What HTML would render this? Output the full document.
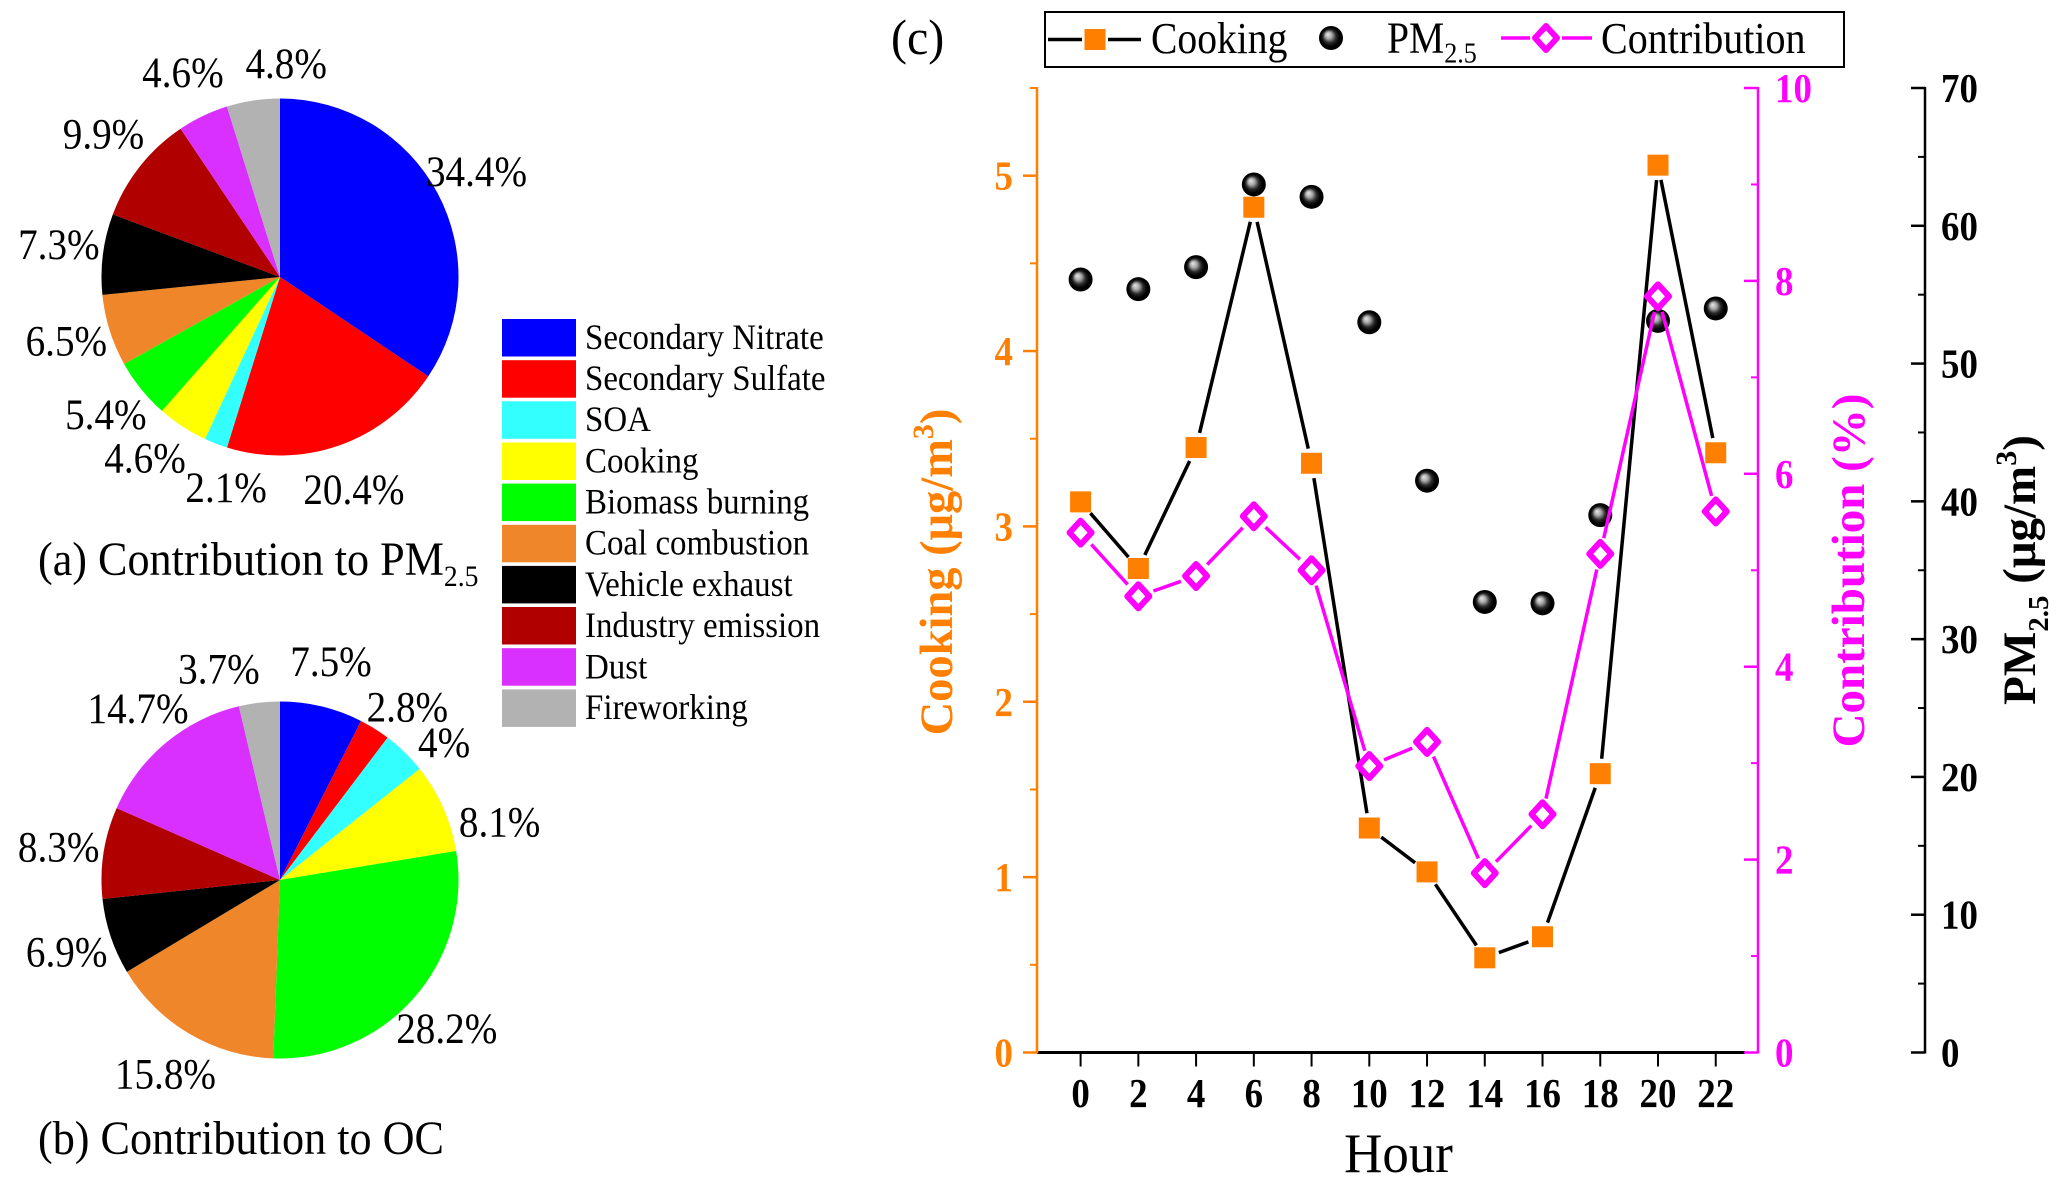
<!DOCTYPE html>
<html lang="en">
<head>
<meta charset="utf-8">
<title>Source contributions</title>
<style>
html,body{margin:0;padding:0;background:#fff;}
svg{display:block;font-family:"Liberation Serif",serif;}
</style>
</head>
<body>
<svg id="fig" xmlns="http://www.w3.org/2000/svg" width="2067" height="1184" viewBox="0 0 2067 1184">
  <defs>
    <radialGradient id="ballGrad" cx="0.5" cy="0.5" r="0.5" fx="0.36" fy="0.34">
      <stop offset="0" stop-color="#e8e8e8"/>
      <stop offset="0.28" stop-color="#a8a8a8"/>
      <stop offset="0.55" stop-color="#2a2a2a"/>
      <stop offset="0.78" stop-color="#000"/>
      <stop offset="1" stop-color="#000"/>
    </radialGradient>
  </defs>
  <rect width="2067" height="1184" fill="#fff"/>

  <g id="pieA"></g>
  <g id="pieB"></g>

  <text transform="translate(38,575) scale(.92,1)" font-size="48" fill="#000">(a) Contribution to PM<tspan dy="11" font-size="30">2.5</tspan></text>
  <text transform="translate(38,1154) scale(.92,1)" font-size="48" fill="#000">(b) Contribution to OC</text>

  <g font-size="36" fill="#000">
    <rect x="502" y="319" width="74" height="37.5" fill="#0000ff"/>
    <text transform="translate(585,349) scale(.915,1)">Secondary Nitrate</text>
    <rect x="502" y="360.2" width="74" height="37.5" fill="#ff0000"/>
    <text transform="translate(585,390) scale(.915,1)">Secondary Sulfate</text>
    <rect x="502" y="401.3" width="74" height="37.5" fill="#33ffff"/>
    <text transform="translate(585,431) scale(.915,1)">SOA</text>
    <rect x="502" y="442.5" width="74" height="37.5" fill="#ffff00"/>
    <text transform="translate(585,472.5) scale(.915,1)">Cooking</text>
    <rect x="502" y="483.6" width="74" height="37.5" fill="#00ff00"/>
    <text transform="translate(585,513.5) scale(.915,1)">Biomass burning</text>
    <rect x="502" y="524.8" width="74" height="37.5" fill="#f0862a"/>
    <text transform="translate(585,554.5) scale(.915,1)">Coal combustion</text>
    <rect x="502" y="565.9" width="74" height="37.5" fill="#000000"/>
    <text transform="translate(585,596) scale(.915,1)">Vehicle exhaust</text>
    <rect x="502" y="607" width="74" height="37.5" fill="#b00000"/>
    <text transform="translate(585,637) scale(.915,1)">Industry emission</text>
    <rect x="502" y="648.2" width="74" height="37.5" fill="#d930ff"/>
    <text transform="translate(585,678.5) scale(.915,1)">Dust</text>
    <rect x="502" y="689.4" width="74" height="37.5" fill="#b2b2b2"/>
    <text transform="translate(585,719) scale(.915,1)">Fireworking</text>
  </g>

  <text transform="translate(891,54) scale(.96,1)" font-size="50" fill="#000">(c)</text>

  <g>
    <rect x="1045" y="12" width="799" height="55" fill="#fff" stroke="#000" stroke-width="2"/>
    <line x1="1048" y1="39.5" x2="1082" y2="39.5" stroke="#000" stroke-width="3.5"/>
    <line x1="1108" y1="39.5" x2="1141" y2="39.5" stroke="#000" stroke-width="3.5"/>
    <rect x="1084.5" y="29" width="21" height="21" fill="#ff7f00"/>
    <text transform="translate(1151,53) scale(.9,1)" font-size="44" fill="#000">Cooking</text>
    <circle cx="1331" cy="38" r="12" fill="url(#ballGrad)"/>
    <text transform="translate(1387,52.5) scale(.9,1)" font-size="44" fill="#000">PM<tspan dy="10" font-size="29">2.5</tspan></text>
    <line x1="1501" y1="38" x2="1530" y2="38" stroke="#ff00ff" stroke-width="3.5"/>
    <line x1="1562" y1="38" x2="1592" y2="38" stroke="#ff00ff" stroke-width="3.5"/>
    <polygon points="1546,26 1557,38 1546,50 1535,38" fill="#fff" stroke="#ff00ff" stroke-width="6" stroke-linejoin="round"/>
    <text transform="translate(1601,53) scale(.91,1)" font-size="44" fill="#000">Contribution</text>
  </g>

  <g id="axes"></g>
  <g id="series"></g>

  <text transform="translate(1398.5,1172) scale(.945,1)" font-size="56" text-anchor="middle" fill="#000">Hour</text>
  <text transform="translate(952,572) rotate(-90)" font-size="46.5" font-weight="bold" text-anchor="middle" fill="#ff7f00">Cooking (μg/m<tspan dy="-19" font-size="30">3</tspan><tspan dy="19">)</tspan></text>
  <text transform="translate(1864,570.5) rotate(-90)" font-size="47" font-weight="bold" text-anchor="middle" fill="#ff00ff">Contribution (%)</text>
  <text transform="translate(2035,570) rotate(-90)" font-size="47" font-weight="bold" text-anchor="middle" fill="#000">PM<tspan dy="13" font-size="29">2.5</tspan><tspan dy="-13"> (μg/m</tspan><tspan dy="-19" font-size="30">3</tspan><tspan dy="19">)</tspan></text>
</svg>

<script>
// ----- Pie data -----
const sourceNames = ['Secondary Nitrate','Secondary Sulfate','SOA','Cooking','Biomass burning','Coal combustion','Vehicle exhaust','Industry emission','Dust','Fireworking'];
const pieColors = ['#0000ff','#ff0000','#33ffff','#ffff00','#00ff00','#f0862a','#000000','#b00000','#d930ff','#b2b2b2'];
const pm25Shares = [34.4,20.4,2.1,4.6,5.4,6.5,7.3,9.9,4.6,4.8];
const ocShares = [7.5,2.8,4,8.1,28.2,15.8,6.9,8.3,14.7,3.7];

// ----- Line chart data -----
const hours = [0,2,4,6,8,10,12,14,16,18,20,22];
const cookingValues = [3.14,2.76,3.45,4.82,3.36,1.28,1.03,0.54,0.66,1.59,5.06,3.42];
const contributionValues = [5.39,4.73,4.94,5.56,5.00,2.97,3.22,1.86,2.47,5.17,7.84,5.61];
const pm25Values = [56.1,55.4,57.0,63.0,62.1,53.0,41.5,32.7,32.6,39.0,53.1,54.0];
const cookingTicks = [0,1,2,3,4,5];
const contributionTicks = [0,2,4,6,8,10];
const pm25Ticks = [0,10,20,30,40,50,60,70];

const NS = 'http://www.w3.org/2000/svg';
function mk(parent, tag, attrs, txt){
  const el = document.createElementNS(NS, tag);
  for (const k in attrs) el.setAttribute(k, attrs[k]);
  if (txt !== undefined) el.textContent = txt;
  parent.appendChild(el);
  return el;
}
function place(x, y, sx){ return 'translate('+x+','+y+') scale('+sx+',1)'; }

// ----- Pies -----
const PIE_R = 178.5;
const LABEL_R = 225;
const pieANudge = [[-2,1],[-1,1],[27,1],[-12,-7],[1,-3],[1,-3],[2,-3],[0,-3],[0,-1],[40,9.5]];
const pieBNudge = [[-1.5,1],[8,18],[7,24],[14,34],[-2,0],[0,1],[0,1],[1,2],[2,2],[-35,13]];

function drawPie(group, values, cx, cy, nudges, prefix){
  const total = values.reduce(function(a,b){return a+b;},0);
  let acc = 0;
  values.forEach(function(v,i){
    const a0 = acc/total*2*Math.PI;
    acc += v;
    const a1 = acc/total*2*Math.PI;
    const x0 = cx+PIE_R*Math.sin(a0), y0 = cy-PIE_R*Math.cos(a0);
    const x1 = cx+PIE_R*Math.sin(a1), y1 = cy-PIE_R*Math.cos(a1);
    const large = (a1-a0) > Math.PI ? 1 : 0;
    const slice = mk(group,'path',{d:'M'+cx+' '+cy+'L'+x0+' '+y0+'A'+PIE_R+' '+PIE_R+' 0 '+large+' 1 '+x1+' '+y1+'Z',fill:pieColors[i]});
    
    
  });
  acc = 0;
  values.forEach(function(v,i){
    const mid = (acc+v/2)/total*2*Math.PI;
    acc += v;
    const lx = cx+LABEL_R*Math.sin(mid)+nudges[i][0];
    const ly = cy-LABEL_R*Math.cos(mid)+nudges[i][1]+14;
    const label = mk(group,'text',{transform:place(lx,ly,0.91),'font-size':43,'text-anchor':'middle',fill:'#000'},v+'%');
    
    
  });
}
drawPie(document.getElementById('pieA'), pm25Shares, 280, 277, pieANudge, 'pie-a');
drawPie(document.getElementById('pieB'), ocShares, 280, 880, pieBNudge, 'pie-b');

// ----- Axis functions -----
const AX_LEFT = 1037, AX_PINK = 1758, AX_BLACK = 1925, AX_TOP = 88, AX_BOTTOM = 1052.5;
const COOK_MAX = 5.5, CONTRIB_MAX = 10, PM_MAX = 70;
const X0 = 1080.6, HOUR_PX = 28.87;
function xScale(h){ return X0 + h*HOUR_PX; }
function yCook(v){ return AX_BOTTOM - v/COOK_MAX*(AX_BOTTOM-AX_TOP); }
function yContrib(v){ return AX_BOTTOM - v/CONTRIB_MAX*(AX_BOTTOM-AX_TOP); }
function yPm(v){ return AX_BOTTOM - v/PM_MAX*(AX_BOTTOM-AX_TOP); }

const axes = document.getElementById('axes');
const series = document.getElementById('series');

function drawYAxis(name, axisX, color, ticks, minorStep, maxVal, yFn, labelX, anchor, weight){
  const line = mk(axes,'line',{x1:axisX,y1:AX_TOP-1,x2:axisX,y2:AX_BOTTOM+1,stroke:color,'stroke-width':2.5});
  
  
  for (let n = 0; n*minorStep <= maxVal+1e-6; n++){
    const minor = mk(axes,'line',{x1:axisX-7,y1:yFn(n*minorStep),x2:axisX,y2:yFn(n*minorStep),stroke:color,'stroke-width':2});
    
    
  }
  ticks.forEach(function(t){
    const y = yFn(t);
    const tick = mk(axes,'line',{x1:axisX-14,y1:y,x2:axisX,y2:y,stroke:color,'stroke-width':2.5});
    
    
    const lab = mk(axes,'text',{transform:place(labelX,y+14,0.9),'font-size':41,'font-weight':weight,'text-anchor':anchor,fill:color},String(t));
    
    
  });
}
const xLine = mk(axes,'line',{x1:AX_LEFT,y1:AX_BOTTOM,x2:AX_PINK-13,y2:AX_BOTTOM,stroke:'#000','stroke-width':3});


hours.forEach(function(h){
  const x = xScale(h);
  const tick = mk(axes,'line',{x1:x,y1:AX_BOTTOM,x2:x,y2:AX_BOTTOM+14,stroke:'#000','stroke-width':2});
  
  
  const lab = mk(axes,'text',{transform:place(x,1107,0.9),'font-size':41,'font-weight':'bold','text-anchor':'middle',fill:'#000'},String(h));
  
  
});
drawYAxis('cooking', AX_LEFT, '#ff7f00', cookingTicks, 0.5, COOK_MAX, yCook, 1013, 'end', 'bold');
drawYAxis('contribution', AX_PINK, '#ff00ff', contributionTicks, 1, CONTRIB_MAX, yContrib, 1775, 'start', 'bold');
drawYAxis('pm25', AX_BLACK, '#000', pm25Ticks, 5, PM_MAX, yPm, 1941, 'start', 'bold');

// ----- Series -----
function drawGappedLine(values, yFn, color, gap, name){
  for (let i = 0; i < values.length-1; i++){
    const xa = xScale(hours[i]), ya = yFn(values[i]);
    const xb = xScale(hours[i+1]), yb = yFn(values[i+1]);
    const d = Math.hypot(xb-xa, yb-ya);
    if (d <= 2*gap) continue;
    const ux = (xb-xa)/d, uy = (yb-ya)/d;
    const seg = mk(series,'line',{x1:xa+ux*gap,y1:ya+uy*gap,x2:xb-ux*gap,y2:yb-uy*gap,stroke:color,'stroke-width':3.5});
    
    
  }
}
drawGappedLine(cookingValues, yCook, '#000', 15, 'cooking');
cookingValues.forEach(function(v,i){
  const m = mk(series,'rect',{x:xScale(hours[i])-10.5,y:yCook(v)-10.5,width:21,height:21,fill:'#ff7f00'});
  
  
});
pm25Values.forEach(function(v,i){
  const m = mk(series,'circle',{cx:xScale(hours[i]),cy:yPm(v),r:12,fill:'url(#ballGrad)'});
  
  
});
drawGappedLine(contributionValues, yContrib, '#ff00ff', 16, 'contribution');
contributionValues.forEach(function(v,i){
  const x = xScale(hours[i]), y = yContrib(v);
  const m = mk(series,'polygon',{points:(x)+','+(y-12)+' '+(x+11)+','+y+' '+x+','+(y+12)+' '+(x-11)+','+y,fill:'#fff',stroke:'#ff00ff','stroke-width':6,'stroke-linejoin':'round'});
  
  
});
</script>
</body>
</html>
